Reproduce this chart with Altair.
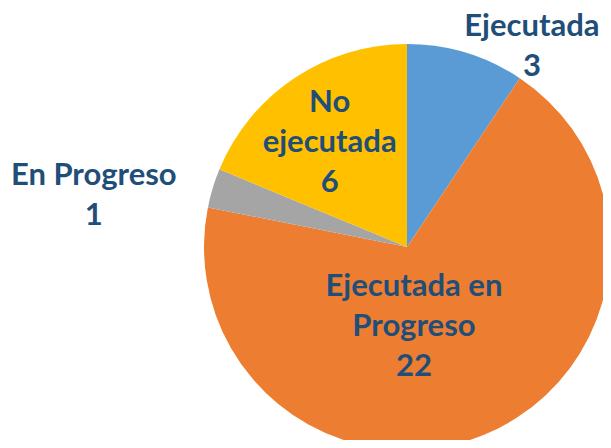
import altair as alt
import pandas as pd

categories = ["Ejecutada", "Ejecutada en Progreso", "En Progreso", "No ejecutada"]
values = [3, 22, 1, 6]
label_lines = ["Ejecutada", "Ejecutada en\nProgreso", "En Progreso", "No\nejecutada"]
colors = ["#5B9BD5", "#ED7D31", "#A5A5A5", "#FFC000"]

df = pd.DataFrame({
    "cat": categories,
    "value": values,
    "idx": list(range(len(categories))),
    "text": [f"{l}\n{v}" for l, v in zip(label_lines, values)],
})

CX, CY, R = 399, 239, 203
theta_scale = alt.Scale(domain=[0, sum(values)])

base = alt.Chart(df).transform_stack(
    stack="value", groupby=[], as_=["v0", "v1"],
    sort=[alt.SortField("idx", order="ascending")],
).transform_calculate(
    vmid="(datum.v0 + datum.v1) / 2"
)

pie = base.mark_arc(outerRadius=R, stroke=None).encode(
    theta=alt.Theta("v0:Q", stack=False, scale=theta_scale),
    theta2="v1:Q",
    x=alt.value(CX),
    y=alt.value(CY),
    color=alt.Color("cat:N", scale=alt.Scale(domain=categories, range=colors), legend=None),
)

# label placement (radius, dx, dy) per category
label_style = {
    "Ejecutada": (220, 61, 0),
    "Ejecutada en Progreso": (60, -16, -6),
    "En Progreso": (320, -7, 31),
    "No ejecutada": (150, 6, -10),
}

layers = [pie]
for cat in categories:
    r, dx, dy = label_style[cat]
    layers.append(
        base.transform_filter(alt.datum.cat == cat)
        .mark_text(
            radius=r, dx=dx, dy=dy, font="Lato", fontWeight="bold", fontSize=31,
            color="#1F4E79", lineBreak="\n", lineHeight=40, align="center",
            baseline="alphabetic",
        )
        .encode(
            theta=alt.Theta("vmid:Q", stack=False, scale=theta_scale),
            x=alt.value(CX),
            y=alt.value(CY),
            text="text:N",
        )
    )

chart = alt.layer(*layers).properties(
    width=595, height=432, autosize=alt.AutoSizeParams(type="none"), padding=0
).configure_view(stroke=None)

chart.save("out.html", embed_options={"renderer": "svg", "actions": False})
